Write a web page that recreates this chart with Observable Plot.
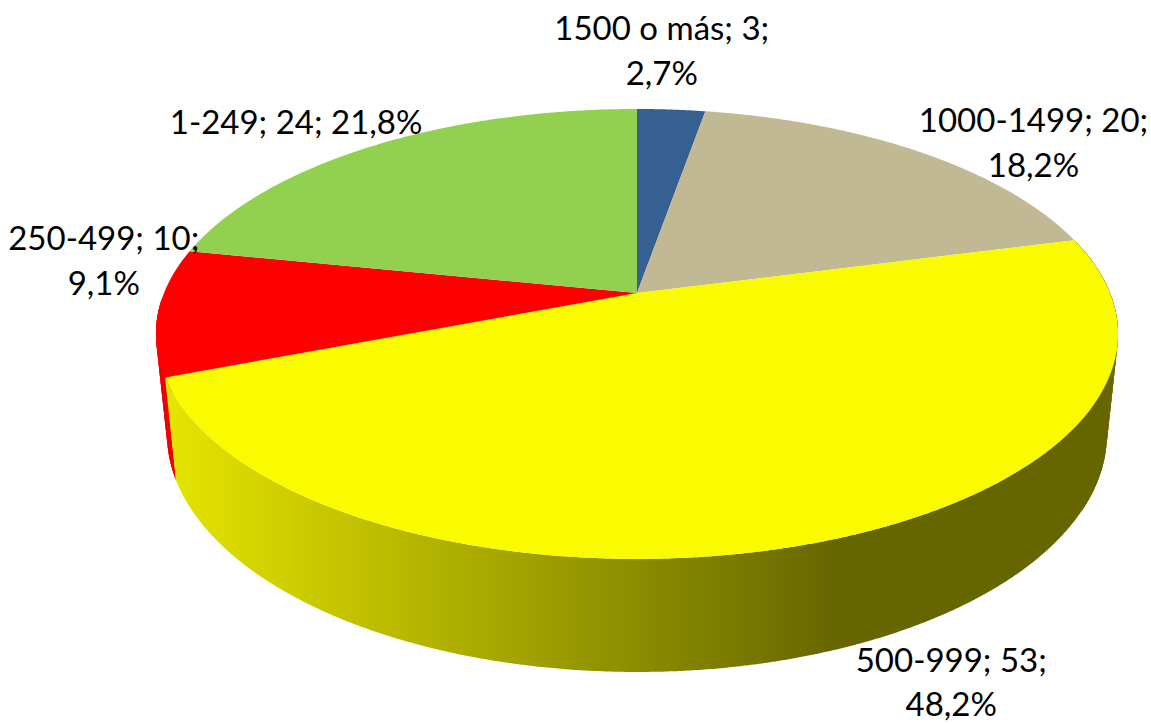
<!DOCTYPE html>
<html>
<head>
<meta charset="utf-8">
<style>html,body{margin:0;padding:0;background:#fff}svg{display:block}</style>
<script src="https://cdn.jsdelivr.net/npm/d3@7"></script>
<script src="https://cdn.jsdelivr.net/npm/@observablehq/plot@0.6"></script>
</head>
<body>
<div id="chart"></div>
<script>
const categories = ["1500 o más", "1000-1499", "500-999", "250-499", "1-249"];
const values = [3, 20, 53, 10, 24];
const percents = ["2,7%", "18,2%", "48,2%", "9,1%", "21,8%"];
const labelBreaks = ["\n", "\n", "\n", "\n", " "];
const sliceColors = ["#376092", "#c0b994", "#fafa00", "#ff0000", "#92d050"];
const wallColors = {"500-999": "url(#wallShade)", "250-499": "#ee0000"};
const wallOrder = ["250-499", "500-999"];
// share of each slice's arc whose wall is drawn as one smooth band
const wallSpan = {"500-999": [0, 1], "250-499": [0, 0.6]};
// share of each slice's arc that holds the straight silhouette edge of the wall
const silhouetteSpan = {"500-999": [0, 0.25], "250-499": [0, 0.6]};
const shadeStops = [["0%", "#e4e400"], ["100%", "#666600"]];
const shadeRange = [172, 838];

// label offsets from each slice's rim midpoint, in px
const labelDx = [-10, 114, 137, -55, -79];
const labelDy = [-62, -12, 136, -54, -26];

// perspective model of the tilted disc
const cx = 637, cy = 293, bx = 473, by = 217.5, k = 0.182;
const depth = 97.5, shrink = 0.977;
function project(theta, bottom) {
  const X = Math.sin(theta), Y = -Math.cos(theta), w = 1 - k * Y;
  const s = bottom ? shrink : 1;
  return {
    x: cx + s * bx * X / w,
    y: cy + s * by * Y / w + (bottom ? depth / w : 0)
  };
}

const total = d3.sum(values);
const cumulative = d3.cumsum(values);
const slices = categories.map((category, i) => ({
  category,
  color: sliceColors[i],
  a0: ((cumulative[i] - values[i]) / total) * 2 * Math.PI,
  a1: (cumulative[i] / total) * 2 * Math.PI
}));
const arcAngles = (a0, a1) => {
  const n = Math.max(2, Math.ceil((a1 - a0) / 0.005));
  return d3.range(n + 1).map(j => a0 + ((a1 - a0) * j) / n);
};
const wallEdge = (t, group, category) => {
  const p = project(t, false), q = project(t, true);
  return {group, fill: wallColors[category], x1: p.x, y1: p.y, x2: q.x, y2: q.y};
};

const topFaces = slices.flatMap(s =>
  arcAngles(s.a0, s.a1).map(t => ({...s, ...project(t, false)}))
);
// flat-coloured stretches use overlapping quads so the straight silhouette edge is filled;
// the shaded front is one smooth band so no seams show in the gradient
const walls = wallOrder.flatMap(category => {
  const s = slices.find(d => d.category === category);
  const span = s.a1 - s.a0;
  const [f0, f1] = wallSpan[category];
  const [g0, g1] = silhouetteSpan[category];
  const band = arcAngles(s.a0 + span * f0, s.a0 + span * f1)
    .map(t => wallEdge(t, `${category}-band`, category));
  const sil = arcAngles(s.a0 + span * g0, s.a0 + span * g1);
  const quads = sil.slice(0, -2).flatMap((t, j) => [
    wallEdge(t, `${category}-${j}`, category),
    wallEdge(sil[j + 2], `${category}-${j}`, category)
  ]);
  return [...band, ...quads];
});

const labels = slices.map((s, i) => {
  const p = project((s.a0 + s.a1) / 2, false);
  return {
    text: `${categories[i]}; ${values[i]};${labelBreaks[i]}${percents[i]}`,
    x: p.x + labelDx[i],
    y: p.y + labelDy[i]
  };
});

const gradientDefs = (index, {x}) => {
  const svg = d3.create("svg:defs");
  const g = svg.append("linearGradient")
    .attr("id", "wallShade")
    .attr("gradientUnits", "userSpaceOnUse")
    .attr("x1", x(shadeRange[0])).attr("x2", x(shadeRange[1]))
    .attr("y1", 0).attr("y2", 0);
  shadeStops.forEach(([o, c]) => g.append("stop").attr("offset", o).attr("stop-color", c));
  return svg.node();
};

const plot = Plot.plot({
  width: 1151,
  height: 724,
  margin: 0,
  x: {domain: [0, 1151], range: [0, 1151], axis: null},
  y: {domain: [0, 724], range: [0, 724], axis: null},
  style: {background: "#fff", fontFamily: "Lato, Carlito, sans-serif"},
  marks: [
    gradientDefs,
    Plot.area(walls, {x1: "x1", y1: "y1", x2: "x2", y2: "y2", z: "group", fill: "fill"}),
    Plot.area(topFaces, {x1: () => cx, y1: () => cy, x2: "x", y2: "y", z: "category", fill: "color"}),
    Plot.text(labels, {
      x: "x", y: "y", text: "text", fontSize: 33, lineHeight: 1.36,
      fill: "#000", textAnchor: "middle", lineAnchor: "middle", stroke: "none"
    })
  ]
});
document.getElementById("chart").append(plot);
</script>
</body>
</html>
